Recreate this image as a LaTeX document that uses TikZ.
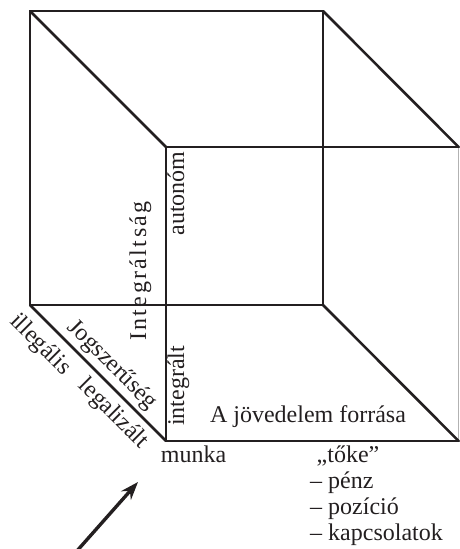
\documentclass[tikz,border=0pt]{standalone}
\usepackage{fontspec}
\setmainfont{Liberation Serif}
\newfontfamily\spacedfont[LetterSpace=10]{Liberation Serif}
\usetikzlibrary{arrows.meta}
\definecolor{ink}{HTML}{231F20}
\tikzset{
  edge/.style={draw=ink, line width=2.6pt, line cap=round, line join=round},
  lbl/.style={text=ink, font=\fontsize{24}{26}\selectfont, inner sep=0pt},
  vlbl/.style={lbl, rotate=90, anchor=base},
  dlbl/.style={lbl, rotate=-45, anchor=center},
  bigarrow/.style={draw=ink, line width=3.4pt, -{Stealth[length=18pt,width=13pt]}}
}
\begin{document}
\begin{tikzpicture}[x=1pt,y=-1pt]
\useasboundingbox (0,0) rectangle (459,549);
% cube corners
\coordinate (btl) at (30,11);
\coordinate (btr) at (323,11);
\coordinate (bbl) at (30,305);
\coordinate (bbr) at (323,305);
\coordinate (ftl) at (166,147);
\coordinate (ftr) at (458.6,147);
\coordinate (fbl) at (166,441);
\coordinate (fbr) at (458.6,441);
% back face
\draw[edge] (btl) -- (btr) -- (bbr) -- (bbl) -- cycle;
% front face
\draw[edge] (ftr) -- (ftl) -- (fbl) -- (fbr);
\draw[draw=gray!60, line width=0.8pt] (ftr) -- (fbr);
% depth edges
\draw[edge] (btl) -- (ftl);
\draw[edge] (btr) -- (ftr);
\draw[edge] (bbl) -- (fbl);
\draw[edge] (bbr) -- (fbr);
% labels
\node[lbl, anchor=base] (src) at (308,422) {A jövedelem forrása};
\node[lbl, anchor=base] (munka) at (193.5,462) {munka};
\node[lbl, anchor=base] (toke) at (348,462) {„tőke”};
\node[lbl, anchor=base west] (penz) at (310,488) {– pénz};
\node[lbl, anchor=base west] (pozicio) at (310,514) {– pozíció};
\node[lbl, anchor=base west] (kapcs) at (310,540) {– kapcsolatok};
\node[vlbl] (auton) at (184,193.5) {autonóm};
\node[vlbl] (integr) at (184,386) {integrált};
\node[vlbl, font=\fontsize{24}{26}\spacedfont] (integrsag) at (146,271) {Integráltság};
\node[dlbl] (illeg) at (40,345) {illegális};
\node[dlbl] (jog) at (112,365) {Jogszerűség};
\node[dlbl] (legal) at (113,414) {legalizált};
% arrow
\coordinate (atail) at (76,552);
\coordinate (ahead) at (138,482);
\draw[bigarrow] (atail) -- (ahead);
\end{tikzpicture}
\end{document}
